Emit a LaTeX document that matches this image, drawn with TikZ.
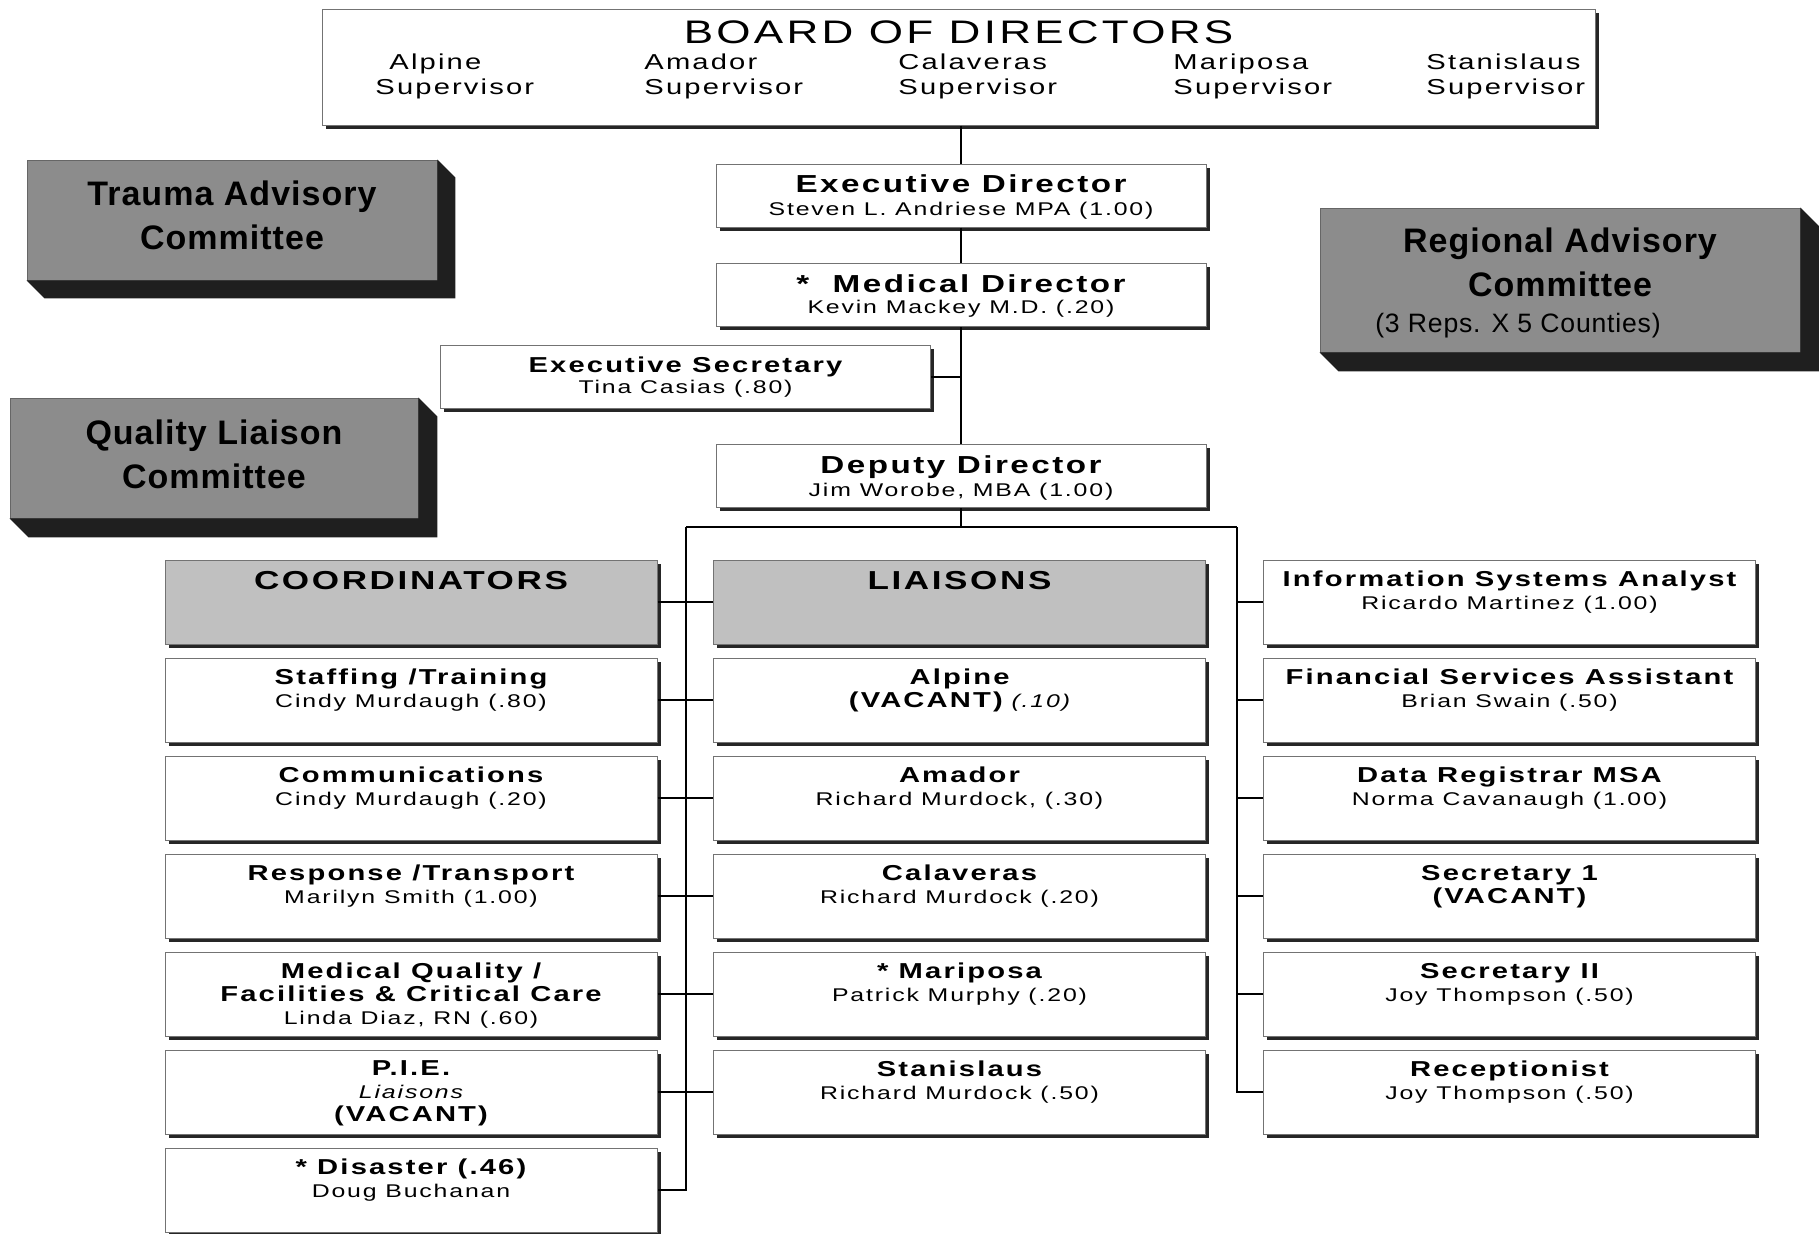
\documentclass[tikz,border=0pt]{standalone}
\usepackage{fontspec}
\setmainfont{Liberation Sans}
\newfontfamily\widefont[FakeStretch=1.35,LetterSpace=10]{Liberation Sans}
\newfontfamily\comfont[LetterSpace=3]{Liberation Sans}
\newcommand\bigttl{\widefont\bfseries\fontsize{12.3}{13}\selectfont}
\newcommand\ttl{\widefont\bfseries\fontsize{10.8}{12}\selectfont}
\newcommand\nam{\widefont\fontsize{9.2}{11.5}\selectfont}
\usetikzlibrary{shadows}
\definecolor{facegray}{RGB}{140,140,140}
\definecolor{headgray}{RGB}{192,192,192}

\begin{document}
\begin{tikzpicture}[x=0.5pt,y=-0.5pt,
      unit/.style ={draw=black!55,line width=0.5pt,fill=#1,inner sep=0pt,
        minimum width=246pt,minimum height=42pt,
        drop shadow={shadow xshift=1.8pt,shadow yshift=-1.8pt,fill=black!85,opacity=1}},
      unit/.default=white,
      top unit/.style ={unit,minimum width=245pt,minimum height=31.5pt},
      lbl/.style ={anchor=north,align=center,inner sep=0pt,font=\nam,yshift=#1},
      lbl/.default=-5.5pt,
      committee/.style ={draw=black!60,line width=0.4pt,fill=facegray,inner sep=0pt},
      comtxt/.style ={lbl=#1,font=\comfont\bfseries\fontsize{17}{22}\selectfont},
      link/.style ={line width=0.8pt}]
    \useasboundingbox (0,0) rectangle (1819,1233);
    \node[unit,minimum width=636.5pt,minimum height=58pt,
      label={[lbl=-6pt,font=\widefont\fontsize{16.3}{18}\selectfont]north:BOARD OF DIRECTORS}] (board) at (958.5,67) {};
    \foreach \x/\ind/\cty in {375/7/Alpine,644/0/Amador,898/0/Calaveras,1173/0/Mariposa,1426/0/Stanislaus}
      \node[anchor=west,align=left,inner sep=0pt,font=\widefont\fontsize{10.8}{12.5}\selectfont] (sup\cty) at (\x,76) {\hspace*{\ind pt}\cty\\Supervisor};
    \node[committee,minimum width=205pt,minimum height=60pt,
      label={[comtxt=-10.5pt]north:{Trauma Advisory\\Committee}}] (tac) at (232,220) {};
    \node[committee,minimum width=204pt,minimum height=60pt,
      label={[comtxt=-11pt]north:{Quality Liaison\\Committee}}] (qlc) at (214,458) {};
    \node[committee,minimum width=240pt,minimum height=72pt,
      label={[comtxt=-10pt]north:{Regional Advisory\\Committee\\[-4pt]{\mdseries\fontsize{13.3}{15}\selectfont\hspace*{-42pt}(3 Reps. X 5 Counties)}}}] (rac) at (1560,280) {};
    \foreach \c/\d in {tac/18,qlc/19,rac/19}
      \fill[black!88] (\c.south west) -- ++(\d,\d) -- ([shift={(\d,\d)}]\c.south east)
        -- ([shift={(\d,\d)}]\c.north east) -- (\c.north east) -- (\c.south east) -- cycle;
    \node[top unit,label={[lbl]north:{{\bigttl Executive Director}\\Steven L. Andriese MPA (1.00)}}] (exdir) at (961,195.5) {};
    \node[top unit,label={[lbl]north:{{\bigttl *~~Medical Director}\\[-1pt]Kevin Mackey M.D. (.20)}}] (meddir) at (961,295) {};
    \node[top unit,label={[lbl=-5.5pt]north:{{\ttl Executive Secretary}\\[-1pt]Tina Casias (.80)}}] (esec) at (685.5,377) {};
    \node[top unit,label={[lbl]north:{{\bigttl Deputy Director}\\Jim Worobe, MBA (1.00)}}] (dep) at (961,476) {};
    \node[unit=headgray,label={[lbl,font=\widefont\bfseries\fontsize{13}{14}\selectfont]north:COORDINATORS}] (chead) at (411,602) {};
    \node[unit,label={[lbl]north:{{\ttl Staffing /Training}\\Cindy Murdaugh (.80)}}] (staff) at (411,700) {};
    \node[unit,label={[lbl]north:{{\ttl Communications}\\Cindy Murdaugh (.20)}}] (comm) at (411,798) {};
    \node[unit,label={[lbl]north:{{\ttl Response /Transport}\\Marilyn Smith (1.00)}}] (resp) at (411,896) {};
    \node[unit,label={[lbl]north:{{\ttl Medical Quality /}\\{\ttl Facilities \& Critical Care}\\Linda Diaz, RN (.60)}}] (medq) at (411,994) {};
    \node[unit,label={[lbl]north:{{\ttl P.I.E.}\\{\itshape Liaisons}\\{\ttl (VACANT)}}}] (pie) at (411,1092) {};
    \node[unit,label={[lbl]north:{{\ttl * Disaster (.46)}\\Doug Buchanan}}] (dis) at (411,1190) {};
    \node[unit=headgray,label={[lbl,font=\widefont\bfseries\fontsize{13}{14}\selectfont]north:LIAISONS}] (lhead) at (959.5,602) {};
    \node[unit,label={[lbl]north:{{\ttl Alpine}\\{\ttl (VACANT)} {\itshape (.10)}}}] (alp) at (959.5,700) {};
    \node[unit,label={[lbl]north:{{\ttl Amador}\\Richard Murdock, (.30)}}] (ama) at (959.5,798) {};
    \node[unit,label={[lbl]north:{{\ttl Calaveras}\\Richard Murdock (.20)}}] (cal) at (959.5,896) {};
    \node[unit,label={[lbl]north:{{\ttl * Mariposa}\\Patrick Murphy (.20)}}] (mar) at (959.5,994) {};
    \node[unit,label={[lbl]north:{{\ttl Stanislaus}\\Richard Murdock (.50)}}] (sta) at (959.5,1092) {};
    \node[unit,label={[lbl]north:{{\ttl Information Systems Analyst}\\Ricardo Martinez (1.00)}}] (isa) at (1509.5,602) {};
    \node[unit,label={[lbl]north:{{\ttl Financial Services Assistant}\\Brian Swain (.50)}}] (fsa) at (1509.5,700) {};
    \node[unit,label={[lbl]north:{{\ttl Data Registrar MSA}\\Norma Cavanaugh (1.00)}}] (dra) at (1509.5,798) {};
    \node[unit,label={[lbl]north:{{\ttl Secretary 1}\\{\ttl (VACANT)}}}] (sec1) at (1509.5,896) {};
    \node[unit,label={[lbl]north:{{\ttl Secretary II}\\Joy Thompson (.50)}}] (sec2) at (1509.5,994) {};
    \node[unit,label={[lbl]north:{{\ttl Receptionist}\\Joy Thompson (.50)}}] (recep) at (1509.5,1092) {};
    \coordinate (busL) at (686,527);
    \coordinate (busR) at (1237,527);
    \draw[link] (exdir.north |- board.south) -- (exdir.north)
      (exdir.south) -- (meddir.north)
      (meddir.south) -- (dep.north)
      (dep.south) -- (dep.south |- busL)
      (esec.east) -- (esec.east -| dep.north)
      (busL) -- (busR)
      (busL) |- (dis.east)
      (busR) |- (recep.west);
    \foreach \a/\b in {chead/lhead,staff/alp,comm/ama,resp/cal,medq/mar,pie/sta}
      \draw[link] (\a.east) -- (\b.west);
    \foreach \r in {isa,fsa,dra,sec1,sec2}
      \draw[link] (busR |- \r.west) -- (\r.west);
    \end{tikzpicture}
\end{document}
